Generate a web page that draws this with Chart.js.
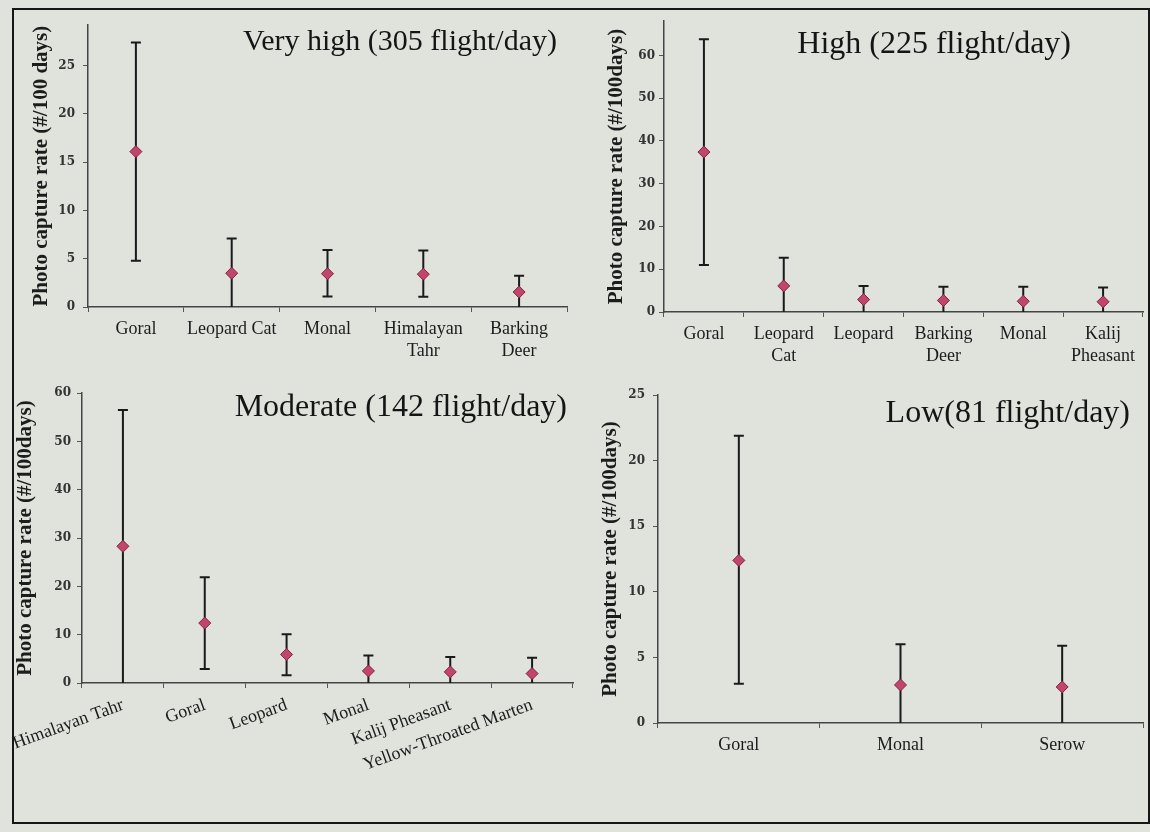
<!DOCTYPE html>
<html>
<head>
<meta charset="utf-8">
<script src="https://cdn.jsdelivr.net/npm/chart.js@4.4.1/dist/chart.umd.min.js"></script>
<style>
  html, body { margin: 0; padding: 0; }
  body { width: 1150px; height: 832px; background: #dfe3dc; position: relative; overflow: hidden; }
  .frame { position: absolute; left: 12px; top: 8px; width: 1134px; height: 812px; border: 2px solid #161616; }
  canvas { position: absolute; }
  .ttl { position: absolute; color: #151515; white-space: nowrap; line-height: 1; font-family: 'Liberation Serif', serif; }
</style>
</head>
<body>
<div class="frame"></div>
<canvas id="veryHigh" width="560" height="365" style="left:14px;top:10px"></canvas>
<canvas id="high" width="572" height="365" style="left:578px;top:10px"></canvas>
<canvas id="moderate" width="570" height="440" style="left:10px;top:380px"></canvas>
<canvas id="low" width="572" height="440" style="left:578px;top:380px"></canvas>
<div class="ttl" style="right:593px;top:25px;font-size:30px">Very high (305 flight/day)</div>
<div class="ttl" style="right:79px;top:26px;font-size:32px">High (225 flight/day)</div>
<div class="ttl" style="right:583px;top:389px;font-size:32px">Moderate (142 flight/day)</div>
<div class="ttl" style="right:20px;top:395px;font-size:32px">Low(81 flight/day)</div>
<script>
// Very high (305 flight/day)
const veryHighSpecies = ['Goral', 'Leopard Cat', 'Monal', ['Himalayan', 'Tahr'], ['Barking', 'Deer']];
const veryHighRate = [16.1, 3.5, 3.45, 3.4, 1.55];
const veryHighLow = [4.8, 0, 1.1, 1.05, 0];
const veryHighUp = [27.4, 7.1, 5.9, 5.85, 3.25];

// High (225 flight/day)
const highSpecies = ['Goral', ['Leopard', 'Cat'], 'Leopard', ['Barking', 'Deer'], 'Monal', ['Kalij', 'Pheasant']];
const highRate = [37.4, 6.1, 2.9, 2.7, 2.5, 2.4];
const highLow = [11, 0, 0, 0, 0, 0];
const highUp = [63.8, 12.7, 6.1, 5.9, 5.9, 5.7];

// Moderate (142 flight/day)
const moderateSpecies = ['Himalayan Tahr', 'Goral', 'Leopard', 'Monal', 'Kalij Pheasant', 'Yellow-Throated Marten'];
const moderateRate = [28.3, 12.4, 5.9, 2.5, 2.3, 1.95];
const moderateLow = [0, 2.9, 1.6, 0, 0, 0];
const moderateUp = [56.5, 21.9, 10.1, 5.7, 5.4, 5.25];

// Low (81 flight/day)
const lowSpecies = ['Goral', 'Monal', 'Serow'];
const lowRate = [12.4, 2.9, 2.75];
const lowLow = [3.0, 0, 0];
const lowUp = [21.9, 6.0, 5.9];

const errorBars = {
  id: 'errorBars',
  beforeDatasetsDraw(chart) {
    const { ctx, scales: { x, y } } = chart;
    const ds = chart.data.datasets[0];
    ctx.save();
    ctx.strokeStyle = '#1a1a1a';
    ctx.lineWidth = 2;
    ds.data.forEach((v, i) => {
      const px = x.getPixelForValue(i);
      const top = y.getPixelForValue(ds.up[i]);
      const bot = y.getPixelForValue(ds.low[i]);
      ctx.beginPath();
      ctx.moveTo(px, top);
      ctx.lineTo(px, bot);
      ctx.moveTo(px - 5, top);
      ctx.lineTo(px + 5, top);
      if (ds.low[i] > 0) {
        ctx.moveTo(px - 5, bot);
        ctx.lineTo(px + 5, bot);
      }
      ctx.stroke();
    });
    ctx.restore();
  }
};

function makePanel(id, labels, rate, low, up, o) {
  return new Chart(document.getElementById(id), {
    type: 'line',
    data: {
      labels: labels,
      datasets: [{
        data: rate,
        low: low,
        up: up,
        showLine: false,
        pointStyle: 'rectRot',
        pointRadius: 6,
        pointBackgroundColor: '#c2456b',
        pointBorderColor: '#7d2440',
        pointBorderWidth: 1
      }]
    },
    options: {
      responsive: false,
      animation: false,
      layout: { padding: { top: o.padTop, right: o.padRight, left: 0, bottom: 0 } },
      plugins: { legend: { display: false }, tooltip: { enabled: false } },
      scales: {
        x: {
          type: 'category',
          offset: true,
          grid: { offset: true, drawOnChartArea: false, tickLength: 5, color: '#555' },
          border: { color: '#444', width: 1.5 },
          ticks: {
            color: '#1c1c1c',
            font: { family: 'Liberation Serif', size: 18, lineHeight: 1.25 },
            padding: 6,
            autoSkip: false,
            minRotation: o.rot || 0,
            maxRotation: o.rot || 0
          },
          afterFit: s => {
            s.height = o.xH;
            // let long rotated labels hang past the axis instead of pushing it right
            s.paddingLeft = 0;
            s.paddingRight = 0;
          }
        },
        y: {
          min: 0,
          max: o.max,
          grid: { drawOnChartArea: false, tickLength: 5, color: '#555' },
          border: { color: '#444', width: 1.5 },
          ticks: {
            stepSize: o.step,
            includeBounds: false,
            color: '#333',
            padding: o.tickPad,
            font: { family: 'DejaVu Serif', size: 12, weight: 'bold' }
          },
          title: {
            display: true,
            text: o.yTitle,
            color: '#1c1c1c',
            font: { family: 'Liberation Serif', size: 21, weight: 'bold' },
            padding: { top: o.titlePad, bottom: 0 }
          },
          afterFit: s => { s.width = o.yW; }
        }
      }
    },
    plugins: [errorBars]
  });
}

makePanel('veryHigh', veryHighSpecies, veryHighRate, veryHighLow, veryHighUp,
  { padTop: 2, padRight: 6, xH: 68, yW: 74, max: 29.2, step: 5, tickPad: 8, titlePad: 15, yTitle: 'Photo capture rate (#/100 days)' });
makePanel('high', highSpecies, highRate, highLow, highUp,
  { padTop: 4, padRight: 2, xH: 63, yW: 86, max: 68, step: 10, tickPad: 4, titlePad: 26, yTitle: 'Photo capture rate (#/100days)' });
makePanel('moderate', moderateSpecies, moderateRate, moderateLow, moderateUp,
  { padTop: 13, padRight: 5, xH: 137, yW: 72, max: 60, step: 10, tickPad: 6, titlePad: 3, rot: 20, yTitle: 'Photo capture rate (#/100days)' });
makePanel('low', lowSpecies, lowRate, lowLow, lowUp,
  { padTop: 15, padRight: 2, xH: 97, yW: 80, max: 25, step: 5, tickPad: 8, titlePad: 20, yTitle: 'Photo capture rate (#/100days)' });
</script>
</body>
</html>
